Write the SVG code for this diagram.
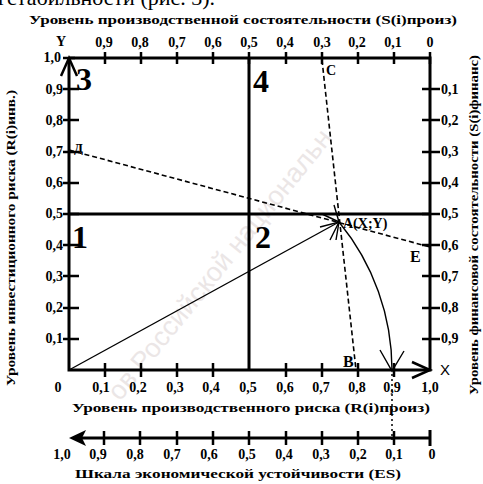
<svg xmlns="http://www.w3.org/2000/svg" width="483" height="484" viewBox="0 0 483 484">
<style>
text{font-family:"Liberation Serif","DejaVu Serif",serif;font-weight:bold;fill:#000}
.ax{stroke:#000;stroke-width:3;fill:none}
.tk{stroke:#000;stroke-width:2.5;fill:none}
.ln{stroke:#000;stroke-width:1.4;fill:none}
.ds{stroke:#000;stroke-width:1.6;fill:none;stroke-dasharray:5 3}
.dt{stroke:#000;stroke-width:1.5;fill:none;stroke-dasharray:2 3}
.lb{font-size:14px}
.q{font-size:32px}
.wm{font-family:"Liberation Sans",sans-serif;font-weight:normal;fill:#ebe6e6;font-size:27px}
</style>
<text class="wm" transform="translate(120,402) rotate(-51)">ов Российской национальн</text>
<text x="-2" y="5" style="font-size:22px;font-weight:normal">гстабильности (рис. 3).</text>
<text x="243" y="24" text-anchor="middle" style="font-size:12px" textLength="428" lengthAdjust="spacingAndGlyphs">Уровень производственной состоятельности (S(i)произ)</text>
<g id="top-labels" class="lb" text-anchor="middle">
<text x="61" y="46">Y</text><text x="104" y="47">0,9</text><text x="140" y="47">0,8</text><text x="177" y="47">0,7</text><text x="213" y="47">0,6</text><text x="249" y="47">0,5</text><text x="285" y="47">0,4</text><text x="322" y="47">0,3</text><text x="357" y="47">0,2</text><text x="393" y="47">0,1</text><text x="430" y="47">0</text>
</g>
<g id="left-labels" class="lb" text-anchor="end">
<text x="61" y="62">1,0</text><text x="63" y="94">0,9</text><text x="63" y="125">0,8</text><text x="63" y="156">0,7</text><text x="63" y="187">0,6</text><text x="63" y="218">0,5</text><text x="63" y="250">0,4</text><text x="63" y="281">0,3</text><text x="63" y="312">0,2</text><text x="63" y="343">0,1</text>
</g>
<g id="right-labels" class="lb">
<text x="441" y="94">0,1</text><text x="441" y="125">0,2</text><text x="441" y="156">0,3</text><text x="441" y="187">0,4</text><text x="441" y="218">0,5</text><text x="441" y="250">0,6</text><text x="441" y="281">0,7</text><text x="441" y="312">0,8</text><text x="441" y="343">0,9</text><text x="440" y="375" style="font-size:15px;font-weight:normal;font-family:'Liberation Sans',sans-serif">X</text>
</g>
<g id="bottom-labels" class="lb" text-anchor="middle">
<text x="58" y="392">0</text><text x="101" y="392">0,1</text><text x="138" y="392">0,2</text><text x="175" y="392">0,3</text><text x="211" y="392">0,4</text><text x="248" y="392">0,5</text><text x="285" y="392">0,6</text><text x="321" y="392">0,7</text><text x="357" y="392">0,8</text><text x="392" y="392">0,9</text><text x="430" y="392">1,0</text>
</g>
<text x="251" y="412" text-anchor="middle" style="font-size:12px" textLength="358" lengthAdjust="spacingAndGlyphs">Уровень производственного риска (R(i)произ)</text>
<text transform="translate(15,238) rotate(-90)" text-anchor="middle" style="font-size:12px" textLength="296" lengthAdjust="spacingAndGlyphs">Уровень инвестиционного риска (R(i)инв.)</text>
<text transform="translate(478,225) rotate(-90)" text-anchor="middle" style="font-size:12px" textLength="340" lengthAdjust="spacingAndGlyphs">Уровень финансовой состоятельности (S(i)финанс)</text>
<g id="axes">
<path class="ax" d="M69,58 V370 H430 V58 H69"/>
<path class="ax" d="M69,214 H430 M249,58 V370"/>
<path class="tk" d="M61,76 L69,58 L77,76 M412,362 L430,370 L412,378"/>
<path class="tk" d="M105,52 v12 M141,52 v12 M177,52 v12 M213,52 v12 M249,52 v12 M286,52 v12 M322,52 v12 M358,52 v12 M394,52 v12 M430,52 v12"/>
<path class="tk" d="M105,363 v14 M141,363 v14 M177,363 v14 M213,363 v14 M286,363 v14 M322,363 v14 M358,363 v14 M394,363 v14"/>
<path class="tk" d="M63,58 h12 M63,89 h16 M63,120 h16 M63,152 h16 M63,183 h16 M63,214 h16 M63,245 h16 M63,276 h16 M63,308 h16 M63,339 h16"/>
<path class="tk" d="M422,89 h18 M422,120 h18 M422,152 h18 M422,183 h18 M422,214 h18 M422,245 h18 M422,276 h18 M422,308 h18 M422,339 h18"/>
</g>
<g id="quadrants" class="q">
<text x="76" y="90">3</text><text x="253" y="92">4</text><text x="72" y="248">1</text><text x="255" y="248">2</text>
</g>
<g id="connectors">
<path class="ln" d="M69,370 L339,222"/>
<path class="ds" d="M69,150 L430,247"/>
<path class="ds" d="M322,60 L356,370"/>
<path class="ln" d="M339,222 A233,233 0 0 1 392,370"/>
<path class="ln" stroke-width="1.8" d="M380,350 L392,371 L404,351"/>
<path class="ln" stroke-width="1.8" d="M320,227 L339,222 L330,240"/>
<path class="ln" stroke-width="1.6" d="M322,214 L339,222 M334,205 L339,222 M336,240 L339,222"/>
<path class="dt" d="M392,374 V440"/>
</g>
<g id="points" style="font-size:14px">
<text x="343" y="228">A(X;Y)</text>
<text x="326" y="75">C</text>
<text x="343" y="367" style="font-size:16px">B</text>
<text x="410" y="262" style="font-size:16px">E</text>
<text x="74" y="152" style="font-size:13px">Д</text>
</g>
<g id="es-scale">
<path class="ax" d="M74,438 H430 M430,430 v16"/>
<path fill="#000" d="M69,438 L86,430 L82,438 L86,446 Z"/>
<path class="tk" d="M104,431 v14 M140,431 v14 M177,431 v14 M213,431 v14 M249,431 v14 M286,431 v14 M322,431 v14 M358,431 v14 M394,431 v14"/>
<g class="lb" text-anchor="middle">
<text x="62" y="459">1,0</text><text x="98" y="459">0,9</text><text x="135" y="459">0,8</text><text x="172" y="459">0,7</text><text x="209" y="459">0,6</text><text x="247" y="459">0,5</text><text x="284" y="459">0,4</text><text x="321" y="459">0,3</text><text x="358" y="459">0,2</text><text x="394" y="459">0,1</text><text x="432" y="459">0</text>
</g>
<text x="238" y="478" text-anchor="middle" style="font-size:13px" textLength="326" lengthAdjust="spacingAndGlyphs">Шкала экономической устойчивости (ES)</text>
</g>
</svg>
